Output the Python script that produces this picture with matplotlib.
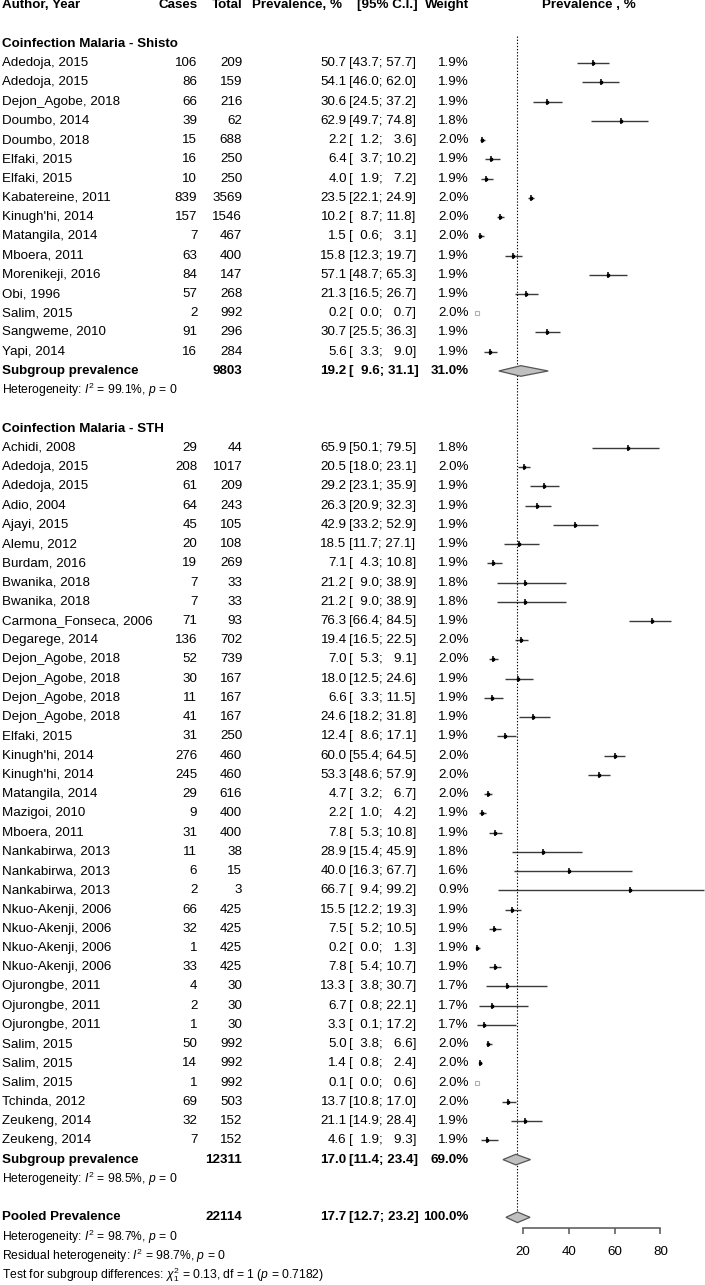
#!/usr/bin/env python
# -*- coding: utf-8 -*-
#
#  forest plot: malaria coinfection prevalence

import matplotlib
matplotlib.use("Agg")
import matplotlib.pyplot as plt

# --- data -------------------------------------------------------------
shisto_author = ["Adedoja, 2015", "Adedoja, 2015", "Dejon_Agobe, 2018", "Doumbo, 2014",
                 "Doumbo, 2018", "Elfaki, 2015", "Elfaki, 2015", "Kabatereine, 2011",
                 "Kinugh'hi, 2014", "Matangila, 2014", "Mboera, 2011", "Morenikeji, 2016",
                 "Obi, 1996", "Salim, 2015", "Sangweme, 2010", "Yapi, 2014"]
shisto_cases = [106, 86, 66, 39, 15, 16, 10, 839, 157, 7, 63, 84, 57, 2, 91, 16]
shisto_total = [209, 159, 216, 62, 688, 250, 250, 3569, 1546, 467, 400, 147, 268, 992, 296, 284]
shisto_prev = [50.7, 54.1, 30.6, 62.9, 2.2, 6.4, 4.0, 23.5, 10.2, 1.5, 15.8, 57.1, 21.3, 0.2, 30.7, 5.6]
shisto_lo = [43.7, 46.0, 24.5, 49.7, 1.2, 3.7, 1.9, 22.1, 8.7, 0.6, 12.3, 48.7, 16.5, 0.0, 25.5, 3.3]
shisto_hi = [57.7, 62.0, 37.2, 74.8, 3.6, 10.2, 7.2, 24.9, 11.8, 3.1, 19.7, 65.3, 26.7, 0.7, 36.3, 9.0]
shisto_w = [1.9, 1.9, 1.9, 1.8, 2.0, 1.9, 1.9, 2.0, 2.0, 2.0, 1.9, 1.9, 1.9, 2.0, 1.9, 1.9]

sth_author = ["Achidi, 2008", "Adedoja, 2015", "Adedoja, 2015", "Adio, 2004", "Ajayi, 2015",
              "Alemu, 2012", "Burdam, 2016", "Bwanika, 2018", "Bwanika, 2018",
              "Carmona_Fonseca, 2006", "Degarege, 2014", "Dejon_Agobe, 2018",
              "Dejon_Agobe, 2018", "Dejon_Agobe, 2018", "Dejon_Agobe, 2018", "Elfaki, 2015",
              "Kinugh'hi, 2014", "Kinugh'hi, 2014", "Matangila, 2014", "Mazigoi, 2010",
              "Mboera, 2011", "Nankabirwa, 2013", "Nankabirwa, 2013", "Nankabirwa, 2013",
              "Nkuo-Akenji, 2006", "Nkuo-Akenji, 2006", "Nkuo-Akenji, 2006", "Nkuo-Akenji, 2006",
              "Ojurongbe, 2011", "Ojurongbe, 2011", "Ojurongbe, 2011", "Salim, 2015",
              "Salim, 2015", "Salim, 2015", "Tchinda, 2012", "Zeukeng, 2014", "Zeukeng, 2014"]
sth_cases = [29, 208, 61, 64, 45, 20, 19, 7, 7, 71, 136, 52, 30, 11, 41, 31, 276, 245, 29, 9,
             31, 11, 6, 2, 66, 32, 1, 33, 4, 2, 1, 50, 14, 1, 69, 32, 7]
sth_total = [44, 1017, 209, 243, 105, 108, 269, 33, 33, 93, 702, 739, 167, 167, 167, 250, 460,
             460, 616, 400, 400, 38, 15, 3, 425, 425, 425, 425, 30, 30, 30, 992, 992, 992, 503,
             152, 152]
sth_prev = [65.9, 20.5, 29.2, 26.3, 42.9, 18.5, 7.1, 21.2, 21.2, 76.3, 19.4, 7.0, 18.0, 6.6,
            24.6, 12.4, 60.0, 53.3, 4.7, 2.2, 7.8, 28.9, 40.0, 66.7, 15.5, 7.5, 0.2, 7.8, 13.3,
            6.7, 3.3, 5.0, 1.4, 0.1, 13.7, 21.1, 4.6]
sth_lo = [50.1, 18.0, 23.1, 20.9, 33.2, 11.7, 4.3, 9.0, 9.0, 66.4, 16.5, 5.3, 12.5, 3.3, 18.2,
          8.6, 55.4, 48.6, 3.2, 1.0, 5.3, 15.4, 16.3, 9.4, 12.2, 5.2, 0.0, 5.4, 3.8, 0.8, 0.1,
          3.8, 0.8, 0.0, 10.8, 14.9, 1.9]
sth_hi = [79.5, 23.1, 35.9, 32.3, 52.9, 27.1, 10.8, 38.9, 38.9, 84.5, 22.5, 9.1, 24.6, 11.5,
          31.8, 17.1, 64.5, 57.9, 6.7, 4.2, 10.8, 45.9, 67.7, 99.2, 19.3, 10.5, 1.3, 10.7, 30.7,
          22.1, 17.2, 6.6, 2.4, 0.6, 17.0, 28.4, 9.3]
sth_w = [1.8, 2.0, 1.9, 1.9, 1.9, 1.9, 1.9, 1.8, 1.8, 1.9, 2.0, 2.0, 1.9, 1.9, 1.9, 1.9, 2.0,
         2.0, 2.0, 1.9, 1.9, 1.8, 1.6, 0.9, 1.9, 1.9, 1.9, 1.9, 1.7, 1.7, 1.7, 2.0, 2.0, 2.0,
         2.0, 1.9, 1.9]

group_names = ["Coinfection Malaria - Shisto", "Coinfection Malaria - STH"]
group_total = [9803, 12311]
group_est = [19.2, 17.0]
group_lo = [9.6, 11.4]
group_hi = [31.1, 23.4]
group_w = [31.0, 69.0]
group_i2 = [99.1, 98.5]

pooled_total = 22114
pooled_est, pooled_lo, pooled_hi = 17.7, 12.7, 23.2
pooled_i2 = 98.7
resid_i2 = 98.7
chi2_sub, df_sub, p_sub = 0.13, 1, 0.7182

x_ticks = [20, 40, 60, 80]

# --- style ------------------------------------------------------------
plt.rcParams['font.family'] = ['Liberation Sans', 'DejaVu Sans']
plt.rcParams['mathtext.fontset'] = 'custom'
plt.rcParams['mathtext.rm'] = 'Liberation Sans'
plt.rcParams['mathtext.it'] = 'Liberation Sans:italic'
plt.rcParams['mathtext.bf'] = 'Liberation Sans:bold'

FS = 9.6
FS_SMALL = 8.7
W, H = 705, 1285
ROW0, PITCH = 5.5, 19.235          # pixel centre of row 0, row height
X0, PXU = 476.8, 2.295             # pixel of prevalence 0, pixels per unit

# column anchors (pixels)
C_AUTH, C_CASES, C_TOTAL, C_PREV, C_CI, C_W = 2, 197.3, 242.3, 346.7, 349.3, 469


def ci_text(lo, hi):
    fs = '\u2007'
    a = ("%.1f" % lo).rjust(4).replace(' ', fs)
    b = ("%.1f" % hi).rjust(4).replace(' ', fs)
    return "[%s; %s]" % (a, b)


def main():
    fig = plt.figure(figsize=(W / 100, H / 100), dpi=100)
    ytop = -ROW0 / PITCH
    ybot = (H - ROW0) / PITCH

    ax = fig.add_axes([0, 0, 1, 1])
    ax.set_xlim(0, W)
    ax.set_ylim(ybot, ytop)
    ax.axis('off')

    axf = fig.add_axes([X0 / W, 0, (W - X0) / W, 1])
    axf.set_xlim(0, (W - X0) / PXU)
    axf.set_ylim(ybot, ytop)
    axf.axis('off')

    def txt(x, r, s, ha='left', bold=False, size=FS):
        ax.text(x, r, s, ha=ha, va='center', fontsize=size,
                fontweight='bold' if bold else 'normal', color='black')

    # header
    txt(C_AUTH, 0, "Author, Year", bold=True)
    txt(C_CASES, 0, "Cases", ha='right', bold=True)
    txt(C_TOTAL, 0, "Total", ha='right', bold=True)
    txt(251.7, 0, "Prevalence, %", bold=True)
    txt(357.3, 0, "[95% C.I.]", bold=True)
    txt(C_W, 0, "Weight", ha='right', bold=True)
    ax.text(589, 0, "Prevalence , %", ha='center', va='center', fontsize=FS, fontweight='bold')

    groups = [
        (shisto_author, shisto_cases, shisto_total, shisto_prev, shisto_lo, shisto_hi, shisto_w),
        (sth_author, sth_cases, sth_total, sth_prev, sth_lo, sth_hi, sth_w),
    ]

    dh = 5.3 / PITCH   # diamond half height in row units

    def diamond(r, est, lo, hi):
        axf.fill([lo, est, hi, est], [r, r - dh, r, r + dh], facecolor='#c0c0c0',
                 edgecolor='#555555', lw=0.9, zorder=3)

    r = 2
    for g, (auth, cases, tot, prev, lo, hi, w) in enumerate(groups):
        txt(C_AUTH, r, group_names[g], bold=True)
        r += 1
        for i in range(len(auth)):
            txt(C_AUTH, r, auth[i])
            txt(C_CASES, r, str(cases[i]), ha='right')
            txt(C_TOTAL, r, str(tot[i]), ha='right')
            txt(C_PREV, r, "%.1f" % prev[i], ha='right')
            txt(C_CI, r, ci_text(lo[i], hi[i]))
            txt(C_W, r, "%.1f%%" % w[i], ha='right')
            if hi[i] - lo[i] < 1.0:
                axf.plot([prev[i]], [r], marker='s', ms=3, mfc='none', mec='#b0b0b0',
                         mew=0.8, clip_on=False)
            else:
                axf.hlines(r, lo[i], hi[i], color='#3a3a3a', lw=1.0, clip_on=False)
                axf.plot([prev[i]], [r], marker='|', ms=5, mew=1.1, color='black',
                         clip_on=False)
                axf.plot([prev[i]], [r], marker='s', ms=1.8, color='black', clip_on=False)
            r += 1
        txt(C_AUTH, r, "Subgroup prevalence", bold=True)
        txt(C_TOTAL, r, str(group_total[g]), ha='right', bold=True)
        txt(C_PREV, r, "%.1f" % group_est[g], ha='right', bold=True)
        txt(C_CI, r, ci_text(group_lo[g], group_hi[g]), bold=True)
        txt(C_W, r, "%.1f%%" % group_w[g], ha='right', bold=True)
        diamond(r, group_est[g], group_lo[g], group_hi[g])
        r += 1
        txt(C_AUTH, r, "Heterogeneity: $I^2$ = %.1f%%, $p$ = 0" % group_i2[g], size=FS_SMALL)
        r += 2

    txt(C_AUTH, r, "Pooled Prevalence", bold=True)
    txt(C_TOTAL, r, str(pooled_total), ha='right', bold=True)
    txt(C_PREV, r, "%.1f" % pooled_est, ha='right', bold=True)
    txt(C_CI, r, ci_text(pooled_lo, pooled_hi), bold=True)
    txt(C_W, r, "100.0%", ha='right', bold=True)
    diamond(r, pooled_est, pooled_lo, pooled_hi)
    pooled_row = r

    txt(C_AUTH, r + 1, "Heterogeneity: $I^2$ = %.1f%%, $p$ = 0" % pooled_i2, size=FS_SMALL)
    txt(C_AUTH, r + 2, "Residual heterogeneity: $I^2$ = %.1f%%, $p$ = 0" % resid_i2,
        size=FS_SMALL)
    txt(C_AUTH, r + 3, "Test for subgroup differences: $\\chi^2_1$ = %.2f, df = %d ($p$ = %.4f)"
        % (chi2_sub, df_sub, p_sub), size=FS_SMALL)

    # dotted reference line at the pooled estimate
    axf.vlines(pooled_est, 36 / PITCH - ROW0 / PITCH, pooled_row - dh, color='black',
               lw=0.8, linestyles=(0, (1.2, 1.6)))

    # x axis
    yax = 1228.3
    axx = fig.add_axes([X0 / W, 1 - yax / H, (W - X0) / W, 0.0001])
    axx.set_xlim(0, (W - X0) / PXU)
    axx.patch.set_visible(False)
    for s in ['top', 'left', 'right']:
        axx.spines[s].set_visible(False)
    axx.spines['bottom'].set_bounds(x_ticks[0], x_ticks[-1])
    axx.spines['bottom'].set_color('#555555')
    axx.spines['bottom'].set_linewidth(1.1)
    axx.set_yticks([])
    axx.set_xticks(x_ticks)
    axx.tick_params(axis='x', length=4.5, width=1.1, color='#555555', pad=8,
                    labelsize=FS)

    fig.savefig("out.png", dpi=100)
    return 0


if __name__ == '__main__':
    import sys
    sys.exit(main())
